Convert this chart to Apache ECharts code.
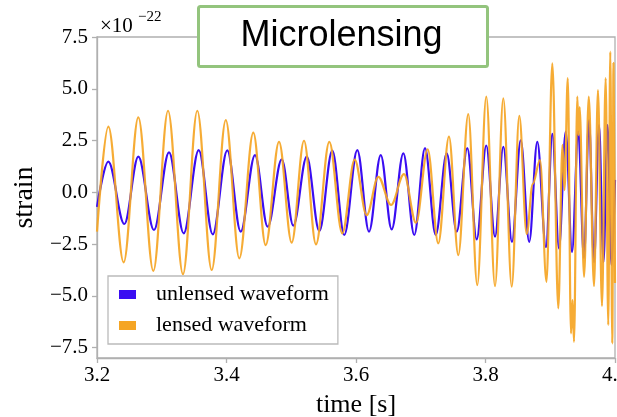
<!DOCTYPE html>
<html>
<head>
<meta charset="utf-8">
<script src="https://cdn.jsdelivr.net/npm/echarts@6/dist/echarts.min.js"></script>
<style>
html,body{margin:0;padding:0;background:#fff;}
#c{width:617px;height:417px;}
</style>
</head>
<body>
<div id="c"></div>
<script>
// time [s] of readable extrema (and ends) of the unlensed waveform
const unlensedTime = [3.2000,3.2175,3.2422,3.2638,3.2880,3.3112,3.3339,3.3571,3.3787,3.4012,3.4219,3.4440,3.4636,3.4853,3.5032,3.5239,3.5433,3.5634,3.5819,3.6020,3.6201,3.6382,3.6551,3.6731,3.6900,3.7066,3.7231,3.7401,3.7555,3.7719,3.7864,3.8012,3.8147,3.8275,3.8409,3.8544,3.8675,3.8800,3.8934,3.9032,3.9135,3.9239,3.9336,3.9433,3.9521,3.9598,3.9676,3.9753,3.9822,3.9884,3.9946,4.0000];
// strain (x1e-22)
const unlensedStrain = [-0.70,1.48,-1.53,1.72,-1.82,1.93,-1.98,2.04,-2.03,2.03,-1.90,1.80,-1.66,1.59,-1.61,1.72,-1.87,2.01,-2.06,2.04,-1.90,1.80,-1.79,1.88,-2.06,2.13,-2.06,1.88,-1.90,2.13,-2.27,2.26,-2.14,2.20,-2.39,2.51,-2.39,2.44,-2.64,2.82,-2.71,2.93,-2.88,2.93,-3.17,3.49,-3.37,3.25,-3.37,3.25,-3.51,0.60];

const lensedTime = [3.2000,3.2175,3.2412,3.2638,3.2870,3.3097,3.3328,3.3549,3.3771,3.3989,3.4198,3.4414,3.4605,3.4811,3.5007,3.5197,3.5382,3.5588,3.5788,3.5980,3.6165,3.6344,3.6541,3.6741,3.6927,3.7107,3.7271,3.7436,3.7580,3.7734,3.7873,3.8012,3.8147,3.8275,3.8405,3.8522,3.8636,3.8729,3.8842,3.8942,3.9032,3.9124,3.9189,3.9220,3.9271,3.9320,3.9344,3.9367,3.9418,3.9437,3.9454,3.9522,3.9595,3.9676,3.9737,3.9799,3.9856,3.9896,3.9927,3.9958,3.9977,4.0000];
const lensedStrain = [-1.90,3.17,-3.38,3.62,-3.79,3.94,-3.95,3.94,-3.75,3.49,-3.19,2.88,-2.55,2.44,-2.43,2.49,-2.51,2.44,-1.98,1.58,-1.10,0.75,-0.61,0.88,-1.47,2.08,-2.46,2.69,-3.03,3.78,-4.48,4.62,-4.53,4.54,-4.55,3.69,-2.01,0.40,1.56,-4.32,6.23,-5.60,2.29,0.11,5.51,-6.81,-5.20,-7.22,4.62,2.76,4.12,-4.08,4.62,-4.53,4.94,-5.49,5.51,-6.41,6.79,-7.29,6.25,-4.38];

const xTicks = [3.2,3.4,3.6,3.8,4.0];
const yTicks = [-7.5,-5.0,-2.5,0.0,2.5,5.0,7.5];

const pair = (ts, vs) => ts.map((t, i) => [t, vs[i]]);
const fmtY = v => (v < 0 ? '\u2212' : '') + Math.abs(v).toFixed(1);

const chart = echarts.init(document.getElementById('c'), null, {renderer: 'canvas'});
const serif = 'Liberation Serif';
const frame = '#b0b0b0';

chart.setOption({
  backgroundColor: '#ffffff',
  animation: false,
  grid: {left: 97, right: 2, top: 37, bottom: 59, show: true, borderColor: frame, borderWidth: 1.3, backgroundColor: 'transparent', containLabel: false, outerBoundsMode: 'none'},
  xAxis: {
    type: 'value', min: 3.2, max: 4.0, interval: 0.2,
    name: 'time [s]', nameLocation: 'middle', nameGap: 34,
    nameTextStyle: {fontFamily: serif, fontSize: 26, color: '#000'},
    axisLine: {show: true, onZero: false, lineStyle: {color: frame, width: 1.3}},
    axisTick: {show: true, length: 5, customValues: xTicks, lineStyle: {color: frame, width: 1.3}},
    axisLabel: {fontFamily: serif, fontSize: 21, color: '#000', margin: 7, customValues: xTicks, formatter: v => v.toFixed(1)},
    splitLine: {show: false}
  },
  yAxis: {
    type: 'value', min: -8, max: 7.5,
    name: 'strain', nameLocation: 'middle', nameGap: 54, nameRotate: 90,
    nameTextStyle: {fontFamily: serif, fontSize: 28, color: '#000'},
    axisLine: {show: true, onZero: false, lineStyle: {color: frame, width: 1.3}},
    axisTick: {show: true, length: 5, customValues: yTicks, lineStyle: {color: frame, width: 1.3}},
    axisLabel: {fontFamily: serif, fontSize: 21, color: '#000', margin: 9, customValues: yTicks, formatter: fmtY},
    splitLine: {show: false}
  },
  legend: {
    orient: 'vertical', left: 108, top: 276,
    padding: [6, 9, 6, 11], itemGap: 6, itemWidth: 17, itemHeight: 9,
    borderColor: '#bbbbbb', borderWidth: 1.3, borderRadius: 0, backgroundColor: '#ffffff',
    textStyle: {fontFamily: serif, fontSize: 22, color: '#000', lineHeight: 25, padding: [0, 0, 0, 15]},
    data: [
      {name: 'unlensed waveform', icon: 'rect', itemStyle: {color: '#3a0df2'}},
      {name: 'lensed waveform', icon: 'rect', itemStyle: {color: '#f5a524'}}
    ]
  },
  graphic: [
    {type: 'text', left: 100, top: 16, z: 10, style: {text: '\u00d710', fontFamily: serif, fontSize: 21, fill: '#000'}},
    {type: 'text', left: 138, top: 10, z: 10, style: {text: '\u221222', fontFamily: serif, fontSize: 15, fill: '#000'}},
    {type: 'rect', left: 197, top: 5, z: 20, shape: {width: 289, height: 60, r: 2}, style: {fill: '#ffffff', stroke: '#93c47d', lineWidth: 3}},
    {type: 'text', z: 21, x: 341.5, y: 36, style: {text: 'Microlensing', fontFamily: 'Liberation Sans', fontSize: 36, fill: '#000', align: 'center', verticalAlign: 'middle'}}
  ],
  series: [
    {name: 'unlensed waveform', type: 'line', data: pair(unlensedTime, unlensedStrain), showSymbol: false, smooth: 0.35, smoothMonotone: 'x',
     lineStyle: {color: '#3a0df2', width: 2.2}, itemStyle: {color: '#3a0df2'}, z: 2},
    {name: 'lensed waveform', type: 'line', data: pair(lensedTime, lensedStrain), showSymbol: false, smooth: 0.35, smoothMonotone: 'x',
     lineStyle: {color: '#f5a524', width: 2.2, opacity: 0.92}, itemStyle: {color: '#f5a524'}, z: 3}
  ]
});
</script>
</body>
</html>
